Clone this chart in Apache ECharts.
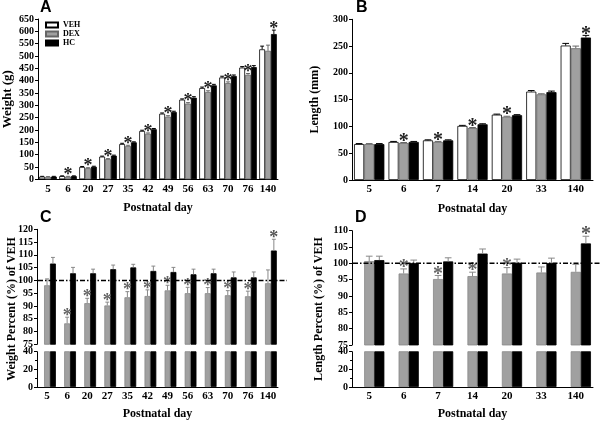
<!DOCTYPE html>
<html><head><meta charset="utf-8">
<script src="https://cdn.jsdelivr.net/npm/echarts@6/dist/echarts.min.js"></script>
<style>html,body{margin:0;padding:0;background:#fff}#c{width:600px;height:421px}</style>
</head><body><div id="c"></div>
<script>
// ---------- DATA ----------
const daysWeight = ['5','6','20','27','35','42','49','56','63','70','76','140'];
const daysLength = ['5','6','7','14','20','33','140'];

// Panel A: body weight (g)
const vehWeight = [11, 13, 50, 92, 143, 196, 266, 323, 370, 413, 453, 527];
const vehWeightErr = [1, 1, 2, 2, 3, 3, 3, 3, 4, 5, 4, 13];
const dexWeight = [10, 11, 45, 82, 135, 185, 254, 307, 354, 390, 424, 521];
const dexWeightErr = [1, 1, 2, 2, 3, 3, 4, 4, 5, 5, 5, 23];
const hcWeight = [11, 13, 51, 96, 150, 203, 273, 331, 381, 419, 455, 589];
const hcWeightErr = [1, 1, 2, 2, 2, 3, 3, 4, 4, 4, 6, 16];
const dexWeightStar = [0,1,1,1,1,1,1,1,1,1,1,0];
const hcWeightStar  = [0,0,0,0,0,0,0,0,0,0,0,1];

// Panel B: body length (mm)
const vehLength = [67, 71, 74, 101, 122, 165, 251];
const vehLengthErr = [1, 1, 1, 1, 1, 2, 4];
const dexLength = [67, 69, 71, 97, 118, 160, 246];
const dexLengthErr = [1, 1, 1, 1, 1, 1, 4];
const hcLength = [67, 71, 74, 104, 121, 164, 266];
const hcLengthErr = [1, 1, 1, 1, 1, 2, 4];
const dexLengthStar = [0,1,1,1,1,0,0];
const hcLengthStar  = [0,0,0,0,0,0,1];

// Panel C: weight percent of VEH
const dexWeightPct = [98.1, 83.2, 91.1, 90.2, 93.4, 93.9, 96.1, 95.0, 95.0, 94.2, 93.8, 98.9];
const dexWeightPctErr = [2.5, 2.4, 1.9, 1.3, 2.2, 2.4, 2.0, 2.3, 2.2, 1.8, 2.0, 5.2];
const hcWeightPct = [106.6, 102.8, 102.8, 104.4, 105.1, 103.7, 103.3, 102.4, 102.8, 101.2, 101.2, 111.7];
const hcWeightPctErr = [2.4, 2.3, 1.6, 1.6, 1.2, 1.9, 1.8, 2.0, 1.6, 2.1, 2.1, 4.4];

// Panel D: length percent of VEH
const dexLengthPct = [100.7, 96.9, 95.2, 96.1, 96.9, 97.2, 97.4];
const dexLengthPctErr = [1.5, 1.4, 1.1, 1.2, 1.8, 1.7, 2.3];
const hcLengthPct = [101.0, 100.1, 100.6, 103.0, 100.2, 100.1, 106.1];
const hcLengthPctErr = [1.2, 0.9, 1.1, 1.4, 1.1, 1.5, 2.2];

const refValue = 100;
const groups = ['VEH', 'DEX', 'HC'];

// ---------- STYLE ----------
const SERIF = '"Liberation Serif", "Times New Roman", serif';
const SANS = '"Liberation Sans", Arial, sans-serif';
const GRAY = '#a0a0a0';
const CAT_GAP = 0.12;

const chart = echarts.init(document.getElementById('c'), null, {renderer: 'canvas'});

const grids = [
  {left: 37, top: 19, width: 241, height: 160.3},
  {left: 352, top: 19.3, width: 241, height: 160.7},
  {left: 37, top: 229.3, width: 241, height: 115},
  {left: 37, top: 351.7, width: 241, height: 38.6},
  {left: 352, top: 230.7, width: 241, height: 114.3},
  {left: 352, top: 351.7, width: 241, height: 38.3}
];

const labelFont = {fontFamily: SERIF, fontWeight: 'bold', color: '#000'};

function xAxis(gi, data, visible) {
  return {
    gridIndex: gi, type: 'category', data: data, show: visible,
    axisLine: {show: true, lineStyle: {color: '#000', width: 1}},
    axisTick: {show: false},
    axisLabel: Object.assign({fontSize: 11, margin: 4, interval: 0}, labelFont),
    name: visible ? 'Postnatal day' : '', nameLocation: 'middle', nameGap: gi < 2 ? 23 : 21,
    nameTextStyle: Object.assign({fontSize: 12}, labelFont),
    splitLine: {show: false}
  };
}
function yAxis(gi, min, max, interval, name, minor) {
  return {
    gridIndex: gi, type: 'value', min: min, max: max, interval: interval,
    axisLine: {show: true, lineStyle: {color: '#000', width: 1}},
    axisTick: {show: true, length: 3, lineStyle: {color: '#000'}},
    minorTick: {show: !!minor, splitNumber: 2, length: 2, lineStyle: {color: '#000'}},
    axisLabel: Object.assign({fontSize: 10, margin: 4}, labelFont),
    splitLine: {show: false}, minorSplitLine: {show: false},
    name: name || '', nameLocation: 'middle', nameGap: gi === 0 ? 24 : 31,
    nameTextStyle: Object.assign({fontSize: gi === 0 ? 13 : 12}, labelFont)
  };
}

const series = [];
function bar(gi, name, data, color, border) {
  series.push({
    type: 'bar', name: name, xAxisIndex: gi, yAxisIndex: gi, data: data,
    barGap: '0%', barCategoryGap: (CAT_GAP * 100) + '%', clip: true,
    itemStyle: {color: color, borderColor: border, borderWidth: 0.8},
    emphasis: {disabled: true}, animation: false
  });
}
function phantom(gi, cats) {
  series.push({
    type: 'bar', xAxisIndex: gi, yAxisIndex: gi, data: cats.map(() => '-'),
    barGap: '0%', barCategoryGap: (CAT_GAP * 100) + '%', animation: false
  });
}
function errs(gi, vals, es, stars, slot, color, starColor, starSize) {
  series.push({
    type: 'custom', xAxisIndex: gi, yAxisIndex: gi, silent: true, z: 5, animation: false,
    data: vals.map((v, i) => [i, v, es[i], stars ? stars[i] : 0]),
    renderItem: function (params, api) {
      const i = api.value(0), v = api.value(1), e = api.value(2), s = api.value(3);
      const band = api.size([1, 0])[0];
      const w = band * (1 - CAT_GAP) / 3;
      const base = api.coord([i, v]);
      const top = api.coord([i, v + e]);
      const x = base[0] + (slot - 1) * w;
      const cap = w * 0.33;
      const ch = [
        {type: 'line', shape: {x1: x, y1: base[1], x2: x, y2: top[1]}, style: {stroke: color, lineWidth: 1}},
        {type: 'line', shape: {x1: x - cap, y1: top[1], x2: x + cap, y2: top[1]}, style: {stroke: color, lineWidth: 1}}
      ];
      if (s) {
        ch.push({type: 'text', x: x, y: top[1] - 1,
          style: {text: '*', align: 'center', verticalAlign: 'middle', fill: starColor,
            fontSize: starSize, fontWeight: 'bold', fontFamily: SERIF}});
      }
      return {type: 'group', children: ch};
    }
  });
}
function refLine(gi, extra) {
  series.push({
    type: 'custom', xAxisIndex: gi, yAxisIndex: gi, silent: true, z: 6, animation: false,
    data: [[0, refValue]],
    renderItem: function (params, api) {
      const cs = params.coordSys;
      const y = api.coord([0, api.value(1)])[1];
      return {type: 'line', shape: {x1: cs.x + 1, y1: y, x2: cs.x + cs.width + extra, y2: y},
        style: {stroke: '#000', lineWidth: 1.5, lineDash: [5, 2, 1.5, 2]}};
    }
  });
}

// Panel A
bar(0, 'VEH', vehWeight, '#fff', '#000');
bar(0, 'DEX', dexWeight, GRAY, '#666');
bar(0, 'HC', hcWeight, '#000', '#000');
errs(0, vehWeight, vehWeightErr, null, 0, '#000', '#000', 18);
errs(0, dexWeight, dexWeightErr, dexWeightStar, 1, '#666', '#222', 18);
errs(0, hcWeight, hcWeightErr, hcWeightStar, 2, '#000', '#222', 18);
// Panel B
bar(1, 'VEH', vehLength, '#fff', '#000');
bar(1, 'DEX', dexLength, GRAY, '#666');
bar(1, 'HC', hcLength, '#000', '#000');
errs(1, vehLength, vehLengthErr, null, 0, '#000', '#000', 20);
errs(1, dexLength, dexLengthErr, dexLengthStar, 1, '#666', '#222', 20);
errs(1, hcLength, hcLengthErr, hcLengthStar, 2, '#000', '#222', 20);
// Panel C (top + bottom of broken axis)
[2, 3].forEach(gi => {
  phantom(gi, daysWeight);
  bar(gi, 'DEX', dexWeightPct, GRAY, '#888');
  bar(gi, 'HC', hcWeightPct, '#000', '#000');
});
refLine(2, 9);
errs(2, dexWeightPct, dexWeightPctErr, dexWeightStar, 1, '#888', '#666', 18);
errs(2, hcWeightPct, hcWeightPctErr, hcWeightStar, 2, '#888', '#555', 18);
// Panel D
[4, 5].forEach(gi => {
  phantom(gi, daysLength);
  bar(gi, 'DEX', dexLengthPct, GRAY, '#888');
  bar(gi, 'HC', hcLengthPct, '#000', '#000');
});
refLine(4, 8);
errs(4, dexLengthPct, dexLengthPctErr, dexLengthStar, 1, '#888', '#666', 20);
errs(4, hcLengthPct, hcLengthPctErr, hcLengthStar, 2, '#888', '#555', 20);

const letterStyle = {fontFamily: SANS, fontWeight: 'bold', fontSize: 16, color: '#000'};
const option = {
  animation: false,
  backgroundColor: '#fff',
  title: [
    {text: 'A', left: 40, top: 0, padding: 0, textStyle: letterStyle},
    {text: 'B', left: 356, top: 0, padding: 0, textStyle: letterStyle},
    {text: 'C', left: 40, top: 210, padding: 0, textStyle: letterStyle},
    {text: 'D', left: 355, top: 210, padding: 0, textStyle: letterStyle}
  ],
  legend: {
    data: groups, orient: 'vertical', left: 45, top: 21, padding: 0,
    itemWidth: 12, itemHeight: 5, itemGap: 1, icon: 'rect',
    textStyle: {fontFamily: SERIF, fontWeight: 'bold', fontSize: 8, color: '#000', lineHeight: 8}
  },
  grid: grids,
  xAxis: [
    xAxis(0, daysWeight, true), xAxis(1, daysLength, true),
    xAxis(2, daysWeight, false), xAxis(3, daysWeight, true),
    xAxis(4, daysLength, false), xAxis(5, daysLength, true)
  ],
  yAxis: [
    yAxis(0, 0, 650, 50, 'Weight (g)'),
    yAxis(1, 0, 300, 50, 'Length (mm)'),
    yAxis(2, 75, 120, 5),
    yAxis(3, 0, 40, 20, '', true),
    yAxis(4, 75, 110, 5),
    yAxis(5, 0, 40, 20, '', true)
  ],
  graphic: [
    {type: 'text', x: 12, y: 309, rotation: Math.PI / 2,
      style: {text: 'Weight Percent (%) of VEH', align: 'center', verticalAlign: 'middle',
        fontFamily: SERIF, fontWeight: 'bold', fontSize: 12, fill: '#000'}},
    {type: 'text', x: 319, y: 309, rotation: Math.PI / 2,
      style: {text: 'Length Percent (%) of VEH', align: 'center', verticalAlign: 'middle',
        fontFamily: SERIF, fontWeight: 'bold', fontSize: 12, fill: '#000'}}
  ],
  series: series
};
chart.setOption(option);
</script></body></html>
